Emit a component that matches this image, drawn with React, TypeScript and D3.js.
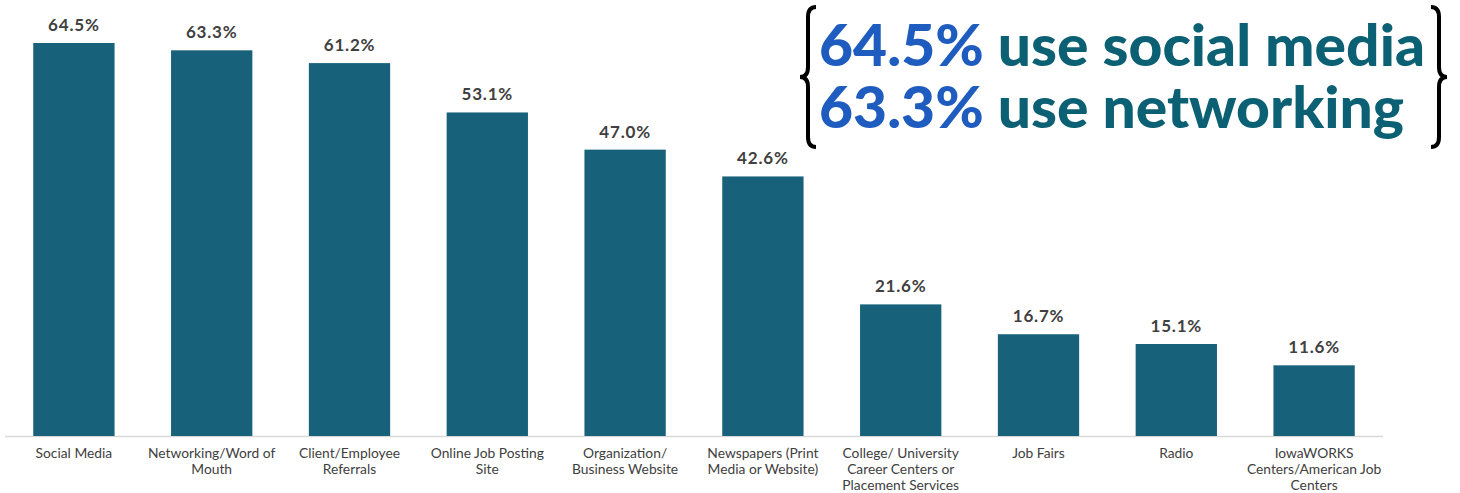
import React from "react";
import * as d3 from "d3";

const categories = [
  ["Social Media"],
  ["Networking/Word of", "Mouth"],
  ["Client/Employee", "Referrals"],
  ["Online Job Posting", "Site"],
  ["Organization/", "Business Website"],
  ["Newspapers (Print", "Media or Website)"],
  ["College/ University", "Career Centers or", "Placement Services"],
  ["Job Fairs"],
  ["Radio"],
  ["IowaWORKS", "Centers/American Job", "Centers"],
];
const values = [64.5, 63.3, 61.2, 53.1, 47.0, 42.6, 21.6, 16.7, 15.1, 11.6];
const annotation = [
  { pct: "64.5%", text: " use social media", len: 606 },
  { pct: "63.3%", text: " use networking", len: 585 },
];

const W = 1460;
const H = 493;

export default function App() {
  const x = d3
    .scaleBand<number>()
    .domain(d3.range(values.length))
    .range([5, 1383])
    .paddingInner(0.41)
    .paddingOuter(0.205);
  const y = d3.scaleLinear().domain([0, 64.5]).range([436, 43]);
  const font = "Lato, 'Open Sans', sans-serif";
  const bracePath = (x0: number, y0: number, y1: number, dir: number) => {
    const m = (y0 + y1) / 2;
    const w = 8 * dir;
    return `M${x0 + w},${y0} Q${x0},${y0} ${x0},${y0 + 10} L${x0},${m - 10} Q${x0},${m} ${x0 - w},${m} Q${x0},${m} ${x0},${m + 10} L${x0},${y1 - 10} Q${x0},${y1} ${x0 + w},${y1}`;
  };
  return (
    <svg width={W} height={H} style={{ position: "absolute", left: 0, top: 0 }}>
      <rect width={W} height={H} fill="#fff" />
      <line x1={5} x2={1383} y1={436.5} y2={436.5} stroke="#d9d9d9" strokeWidth={1.5} />
      {values.map((v, i) => (
        <g key={i}>
          <rect x={x(i)} y={y(v)} width={x.bandwidth()} height={y(0) - y(v)} fill="#17627a" />
          <text
            x={(x(i) as number) + x.bandwidth() / 2}
            y={y(v) - 12}
            textAnchor="middle"
            fontFamily={font}
            fontWeight="bold"
            fontSize={17}
            letterSpacing={0.8}
            fill="#404040"
          >
            {v.toFixed(1)}%
          </text>
          {categories[i].map((line, j) => (
            <text
              key={j}
              x={(x(i) as number) + x.bandwidth() / 2}
              y={458 + j * 16}
              textAnchor="middle"
              fontFamily={font}
              fontSize={13.8}
              fill="#404040"
            >
              {line}
            </text>
          ))}
        </g>
      ))}
      <path d={bracePath(808, 7, 147, 1)} fill="none" stroke="#000" strokeWidth={4} />
      <path d={bracePath(1439, 7, 147, -1)} fill="none" stroke="#000" strokeWidth={4} />
      {annotation.map((a, i) => (
        <text
          key={i}
          x={819}
          y={66 + i * 62}
          fontFamily={font}
          fontWeight={900}
          fontSize={58}
          fill="#0b6074"
          textLength={a.len}
          lengthAdjust="spacingAndGlyphs"
        >
          <tspan fill="#1f5cbf">{a.pct}</tspan>
          <tspan>{a.text}</tspan>
        </text>
      ))}
    </svg>
  );
}
